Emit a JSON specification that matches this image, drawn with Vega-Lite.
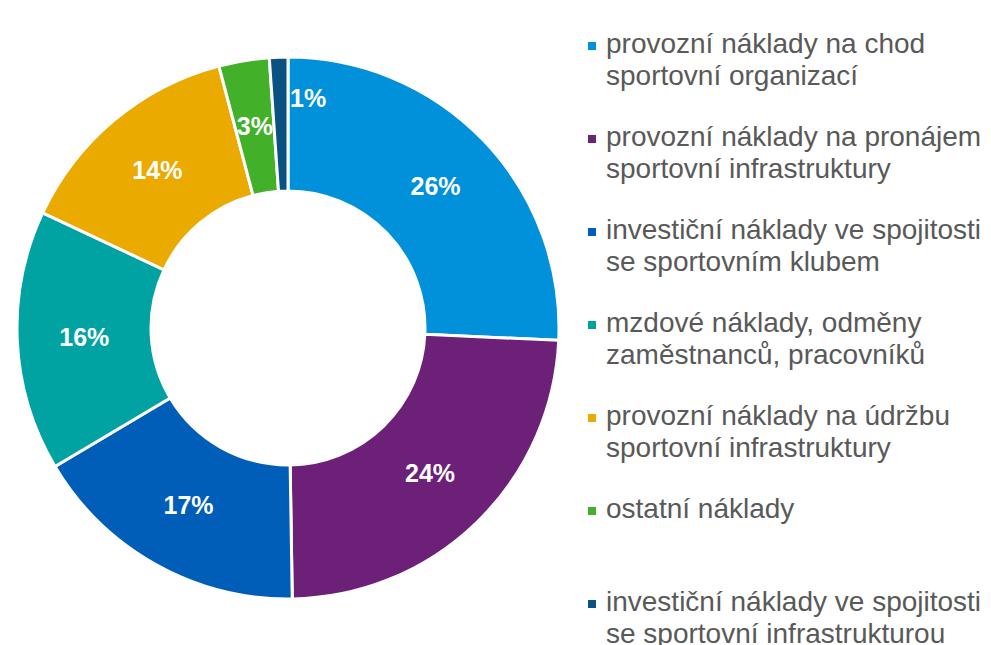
{
  "$schema": "https://vega.github.io/schema/vega-lite/v6.json",
  "width": 576,
  "height": 656,
  "padding": 0,
  "background": "white",
  "config": {
    "view": {"stroke": null},
    "font": "Liberation Sans",
    "style": {"guide-label": {"lineHeight": 32, "dy": 7}}
  },
  "data": {
    "values": [
      {"kategorie": "provozní náklady na chod\nsportovní organizací", "podil": 25.7, "popisek": "26%", "poradi": 1},
      {"kategorie": "\u00a0provozní náklady na pronájem\nsportovní infrastruktury", "podil": 24.0, "popisek": "24%", "poradi": 2},
      {"kategorie": "investiční náklady ve spojitosti\nse sportovním klubem", "podil": 16.7, "popisek": "17%", "poradi": 3},
      {"kategorie": "\u00a0mzdové náklady, odměny\nzaměstnanců, pracovníků", "podil": 15.5, "popisek": "16%", "poradi": 4},
      {"kategorie": "\u00a0provozní náklady na údržbu\nsportovní infrastruktury", "podil": 13.9, "popisek": "14%", "poradi": 5},
      {"kategorie": "ostatní náklady\n\u00a0", "podil": 3.0, "popisek": "3%", "poradi": 6},
      {"kategorie": "investiční náklady ve spojitosti\nse sportovní infrastrukturou", "podil": 1.1, "popisek": "1%", "poradi": 7}
    ]
  },
  "encoding": {
    "theta": {"field": "podil", "type": "quantitative", "stack": true},
    "order": {"field": "poradi", "type": "quantitative"}
  },
  "layer": [
    {
      "mark": {"type": "arc", "outerRadius": 271, "innerRadius": 137, "stroke": "white", "strokeWidth": 3},
      "encoding": {
        "color": {
          "field": "kategorie",
          "type": "nominal",
          "sort": null,
          "scale": {"range": ["#0091DA", "#6D2077", "#005EB8", "#00A3A1", "#EAAA00", "#43B02A", "#0A5282"]},
          "legend": {
            "title": null,
            "orient": "none",
            "legendX": 578,
            "legendY": 32,
            "padding": 0,
            "symbolType": "square",
            "symbolSize": 64,
            "symbolStrokeWidth": 0,
            "labelFontSize": 28,
            "labelColor": "#595959",
            "labelOffset": 0,
            "labelLimit": 600,
            "rowPadding": 33,
            "labelExpr": "split(datum.label, '\\n')",
            "labelBaseline": "alphabetic"
          }
        }
      }
    },
    {
      "mark": {
        "type": "text",
        "radius": {"expr": "datum.podil < 2 ? 229 : 204"},
        "dx": {"expr": "datum.podil < 2 ? 10 : 0"},
        "fontSize": 25,
        "fontWeight": "bold",
        "color": "white",
        "align": {"expr": "datum.podil < 2 ? 'left' : 'center'"},
        "baseline": "middle"
      },
      "encoding": {"text": {"field": "popisek", "type": "nominal"}}
    }
  ]
}
